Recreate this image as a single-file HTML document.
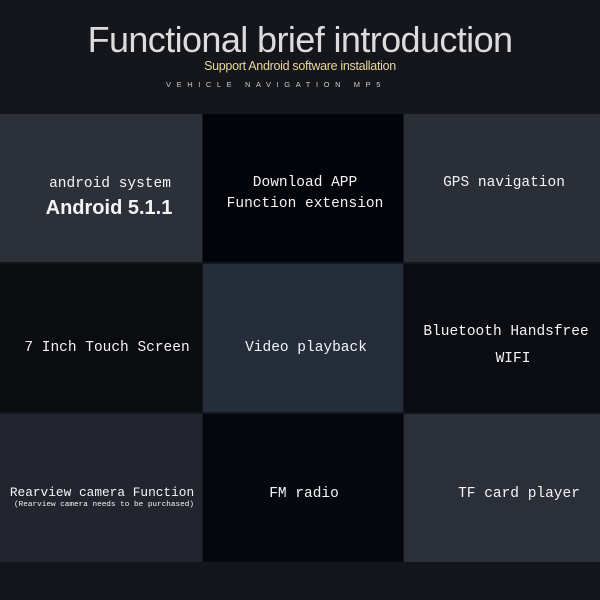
<!DOCTYPE html>
<html><head><meta charset="utf-8"><style>
body{margin:0;width:600px;height:600px;background:#15161b;position:relative;overflow:hidden;font-family:"Liberation Sans","WenQuanYi Zen Hei",sans-serif;color:#f2f2f2}
.t{position:absolute;left:0;width:600px;text-align:center}
.b{position:absolute}
.x{position:absolute;white-space:nowrap;font-family:"Liberation Mono","DejaVu Sans Mono",monospace;font-size:14.5px;line-height:18px;transform:translate(-50%,-50%);color:#f4f4f4}
</style></head><body>
<div class="t" style="top:19px;font-size:36px;font-weight:300;color:#dcdcdc;letter-spacing:-0.6px">Functional brief introduction</div>
<div class="t" style="top:59px;font-size:12.5px;color:#e6d79a;letter-spacing:-0.3px">Support Android software installation</div>
<div class="t" style="top:80px;left:-24px;font-size:7.5px;letter-spacing:5.6px;color:#cfcfcf">VEHICLE NAVIGATION MP5</div>

<div class="b" style="left:0;top:114px;width:202px;height:148px;background:#2c3038"></div>
<div class="b" style="left:203px;top:114px;width:200px;height:148px;background:#020409"></div>
<div class="b" style="left:404px;top:114px;width:196px;height:148px;background:#2a2e36"></div>
<div class="b" style="left:0;top:264px;width:202px;height:148px;background:#0b0c10"></div>
<div class="b" style="left:203px;top:264px;width:200px;height:148px;background:#262d3a"></div>
<div class="b" style="left:404px;top:264px;width:196px;height:148px;background:#0c0d12"></div>
<div class="b" style="left:0;top:414px;width:202px;height:148px;background:#22252e"></div>
<div class="b" style="left:203px;top:414px;width:200px;height:148px;background:#05080f"></div>
<div class="b" style="left:404px;top:414px;width:196px;height:148px;background:#2b2f38"></div>

<div class="x" style="left:110px;top:184px">android system</div>
<div class="x" style="left:109px;top:208px;font-family:'Liberation Sans',sans-serif;font-weight:bold;font-size:20px;line-height:24px">Android 5.1.1</div>
<div class="x" style="left:305px;top:183px">Download APP</div>
<div class="x" style="left:305px;top:204px">Function extension</div>
<div class="x" style="left:504px;top:183px">GPS navigation</div>
<div class="x" style="left:107px;top:348px">7 Inch Touch Screen</div>
<div class="x" style="left:306px;top:348px">Video playback</div>
<div class="x" style="left:506px;top:332px">Bluetooth Handsfree</div>
<div class="x" style="left:513px;top:359px">WIFI</div>
<div class="x" style="left:102px;top:493px;font-size:12.8px">Rearview camera Function</div>
<div class="x" style="left:104px;top:505px;font-size:7.7px;line-height:10px">(Rearview camera needs to be purchased)</div>
<div class="x" style="left:304px;top:494px">FM radio</div>
<div class="x" style="left:519px;top:494px">TF card player</div>
</body></html>
